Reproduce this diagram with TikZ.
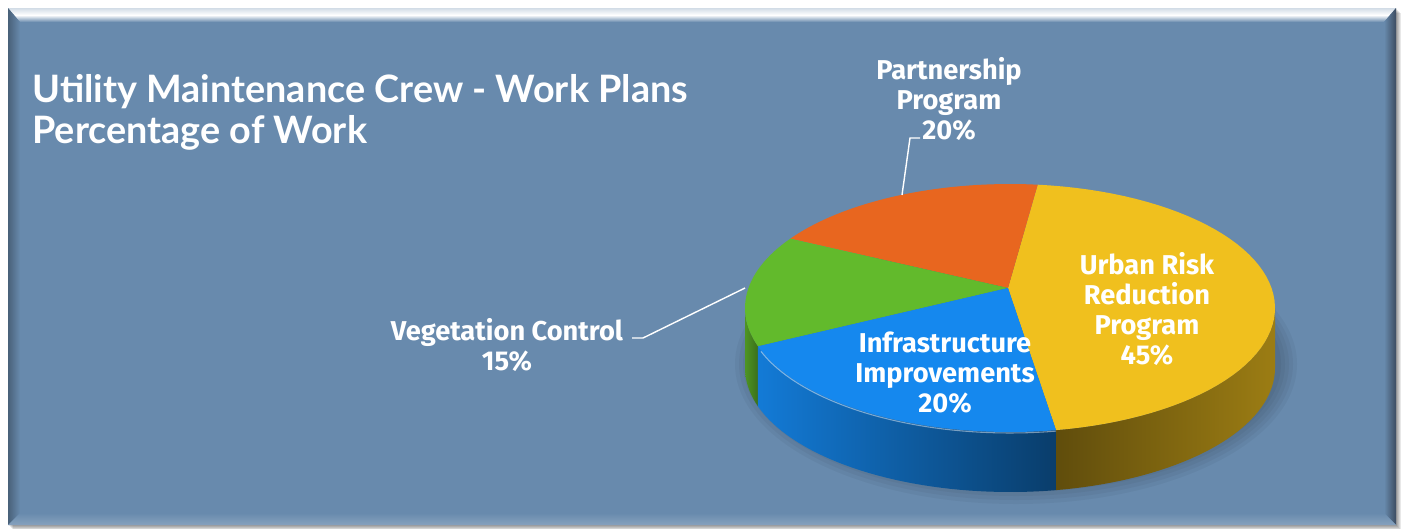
\documentclass[tikz,border=0pt]{standalone}
\usepackage{fontspec}
\setmainfont{Fira Sans}
\newfontfamily\titlefont{Lato}
\usetikzlibrary{calc}

\definecolor{panelblue}{HTML}{688AAD}
\definecolor{panelshade}{HTML}{3C4C60}
\definecolor{pieyellow}{HTML}{F0C01E}
\definecolor{pieorange}{HTML}{E8661F}
\definecolor{piegreen}{HTML}{62BA2C}
\definecolor{pieblue}{HTML}{1588EE}

\begin{document}
\begin{tikzpicture}[x=0.02cm,y=-0.02cm]

\tikzset{
    lbl/.style = {
    text=white,
    font=\fontsize{15.5}{17}\selectfont\bfseries,
    align=center
    },
    titletext/.style = {text=white, inner sep=0pt, anchor=base west,
    font=\titlefont\fontsize{21.5}{23}\selectfont\bfseries},
    leader/.style = {draw=white, line width=0.8pt}
}

% pie geometry (pixels)
\def\pieX{1010}
\def\pieY{308}
\def\pieA{265}
\def\pieB{124}
\def\pieD{60}

\useasboundingbox (0,0) rectangle (1403,528);
\fill[white] (0,0) rectangle (1403,528);

% frame with bevel
\foreach \s in {1,...,5}
  \fill[black, opacity=0.09] (8+\s,8+\s) rectangle (1396+\s,525+\s);
\fill[panelblue] (8,8) rectangle (1396,525);
\shade[top color=white!70!panelblue, bottom color=panelblue, middle color=white]
  (8,8) -- (1396,8) -- (1384,22) -- (20,22) -- cycle;
\shade[left color=panelblue!70!black, right color=panelblue]
  (8,8) -- (20,22) -- (20,513) -- (8,525) -- cycle;
\shade[left color=panelblue, right color=panelshade]
  (1396,8) -- (1384,22) -- (1384,513) -- (1396,525) -- cycle;
\shade[top color=panelblue, bottom color=panelblue!80!white]
  (8,525) -- (20,513) -- (1384,513) -- (1396,525) -- cycle;

% title
\node[titletext] (title1) at (32,102) {Utility Maintenance Crew - Work Plans};
\node[titletext] (title2) at (32,143) {Percentage of Work};

% shadow under pie
\foreach \s in {0,...,4}
  \fill[black, opacity=0.04] (1016,\pieY+\pieD-4) ellipse [x radius=\pieA+4*\s, y radius=\pieB+4*\s];

% sides
\shade[left color=piegreen!80!black, right color=piegreen!60!black]
  plot[domain=180:198, samples=10] ({\pieX+\pieA*cos(\x)},{\pieY-\pieB*sin(\x)})
  -- plot[domain=198:180, samples=10] ({\pieX+\pieA*cos(\x)},{\pieY+\pieD-\pieB*sin(\x)}) -- cycle;
\shade[left color=pieblue!90!black, right color=pieblue!45!black]
  plot[domain=198:280, samples=40] ({\pieX+\pieA*cos(\x)},{\pieY-\pieB*sin(\x)})
  -- plot[domain=280:198, samples=40] ({\pieX+\pieA*cos(\x)},{\pieY+\pieD-\pieB*sin(\x)}) -- cycle;
\shade[left color=pieyellow!40!black, right color=pieyellow!65!black]
  plot[domain=280:360, samples=40] ({\pieX+\pieA*cos(\x)},{\pieY-\pieB*sin(\x)})
  -- plot[domain=360:280, samples=40] ({\pieX+\pieA*cos(\x)},{\pieY+\pieD-\pieB*sin(\x)}) -- cycle;

% tops
\coordinate (apex) at (1008,288);
\fill[pieyellow] (apex) -- plot[domain=-80:84, samples=60] ({\pieX+\pieA*cos(\x)},{\pieY-\pieB*sin(\x)}) -- cycle;
\fill[pieorange] (apex) -- plot[domain=84:146, samples=30] ({\pieX+\pieA*cos(\x)},{\pieY-\pieB*sin(\x)}) -- cycle;
\fill[piegreen] (apex) -- plot[domain=146:198, samples=30] ({\pieX+\pieA*cos(\x)},{\pieY-\pieB*sin(\x)}) -- cycle;
\fill[pieblue] (apex) -- plot[domain=198:280, samples=40] ({\pieX+\pieA*cos(\x)},{\pieY-\pieB*sin(\x)}) -- cycle;
\draw[white, opacity=0.45, line width=0.6pt]
  plot[domain=200:280, samples=40] ({\pieX+\pieA*cos(\x)},{\pieY+1-\pieB*sin(\x)});

% labels
\node[lbl] (partLbl) at (949,99) {Partnership\\Program\\20\%};
\node[lbl] (vegLbl) at (507,345) {Vegetation Control\\15\%};
\node[lbl] (infraLbl) at (945,373) {Infrastructure\\Improvements\\20\%};
\node[lbl] (urbanLbl) at (1147,309) {Urban Risk\\Reduction\\Program\\45\%};

% leader lines
\coordinate (partStart) at (920,138);
\coordinate (partTip) at (902,195);
\draw[leader] (partStart) -- ++(-10,0) -- (partTip);
\coordinate (vegStart) at (632,338);
\coordinate (vegTip) at (745,288);
\draw[leader] (vegStart) -- ++(11,0) -- (vegTip);

\end{tikzpicture}
\end{document}
